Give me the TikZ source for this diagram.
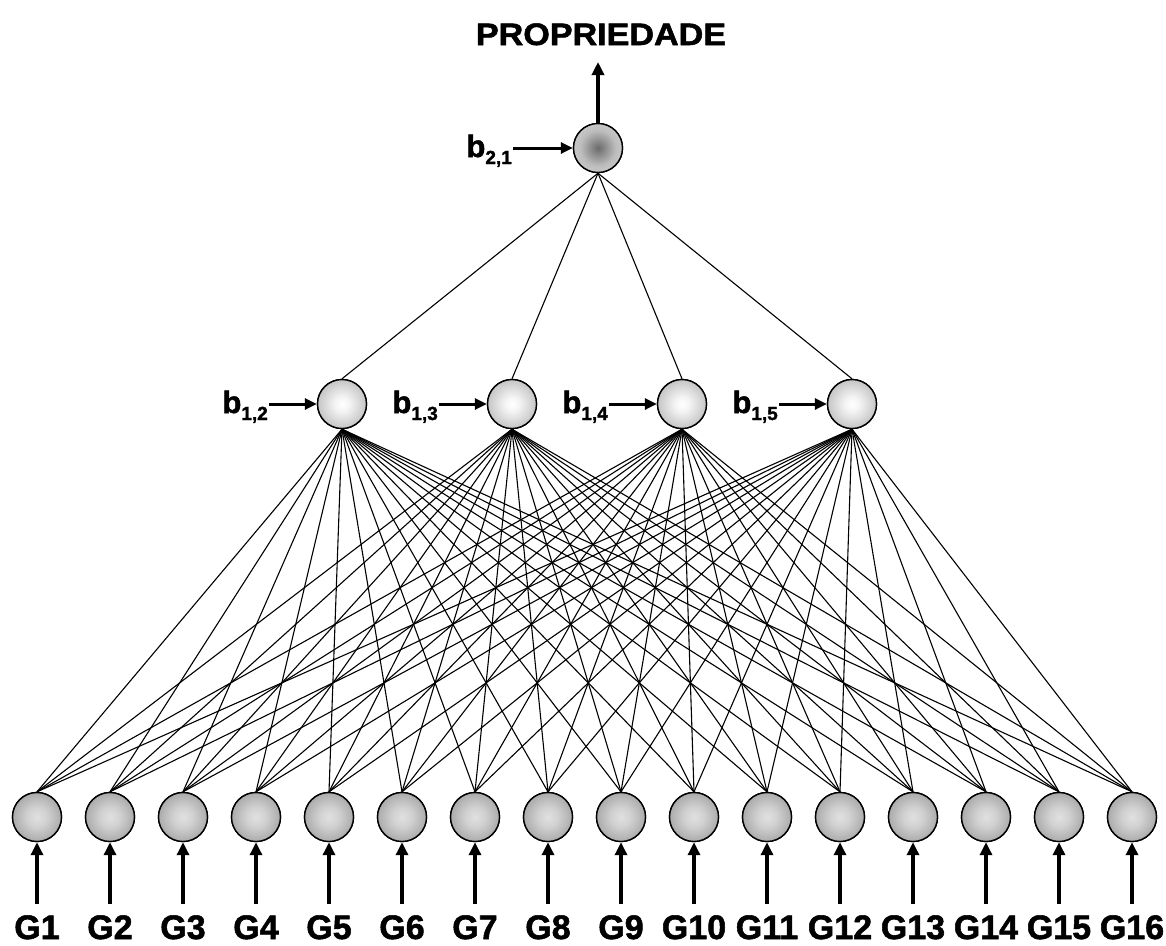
\documentclass[tikz,border=0pt]{standalone}
\usepackage{fontspec}
\setmainfont{Liberation Sans}[BoldFeatures={FakeBold=1.6}]
\usetikzlibrary{arrows.meta}
\pgfdeclareradialshading{inshade}{\pgfpoint{0bp}{0bp}}{rgb(0bp)=(0.88,0.88,0.88); rgb(10bp)=(0.82,0.82,0.82); rgb(30bp)=(0.62,0.62,0.62); rgb(50bp)=(0.32,0.32,0.32)}
\pgfdeclareradialshading{hidshade}{\pgfpoint{0bp}{0bp}}{rgb(0bp)=(1,1,1); rgb(7bp)=(0.96,0.96,0.96); rgb(30bp)=(0.72,0.72,0.72); rgb(50bp)=(0.40,0.40,0.40)}
\pgfdeclareradialshading{outshade}{\pgfpoint{0bp}{0bp}}{rgb(0bp)=(0.42,0.42,0.42); rgb(18bp)=(0.74,0.74,0.74); rgb(50bp)=(0.93,0.93,0.93)}
\tikzset{
  neuron/.style={circle, draw=black, line width=1.4pt, minimum size=49pt, inner sep=0pt},
  inneuron/.style={neuron, shading=inshade},
  hidneuron/.style={neuron, shading=hidshade},
  outneuron/.style={neuron, shading=outshade},
  conn/.style={line width=1.1pt, black},
  bigarrow/.style={line width=3.5pt, -{Triangle[length=13pt,width=12pt]}},
  biasarrow/.style={line width=3pt, -{Triangle[length=12pt,width=11pt]}},
  glabel/.style={font=\bfseries\fontsize{34}{36}\selectfont, anchor=base, inner sep=0pt},
  blabel/.style={font=\bfseries, anchor=base east, inner sep=0pt},
}
\newcommand{\biastext}[2]{{\fontsize{31}{31}\selectfont b}\raisebox{-7pt}{\fontsize{19}{19}\selectfont #1,#2}}
\begin{document}
\begin{tikzpicture}[x=1pt,y=-1pt]
\useasboundingbox (0,0) rectangle (1166,945);
% input neurons
\foreach \i in {1,...,16}{
  \node[inneuron] (g\i) at ({37+73*(\i-1)},817) {};
  \coordinate (gs\i) at ({37+73*(\i-1)},904);
  \node[glabel] (gl\i) at ({37+73*(\i-1)},939) {G\i};
}
% hidden neurons
\foreach \j/\x in {2/342,3/512,4/682,5/852}{
  \node[hidneuron] (h\j) at (\x,404) {};
  \node[blabel] (bl\j) at ({\x-74},413) {\biastext{1}{\j}};
}
% output
\node[outneuron] (o) at (598,148) {};
\node[blabel] (bo) at (512,157) {\biastext{2}{1}};
\node[font=\bfseries\fontsize{31}{34}\selectfont, anchor=base, inner sep=0pt, xscale=1.1] (prop) at (601,45) {PROPRIEDADE};
\coordinate (otop) at (598,62);
% connections
\foreach \i in {1,...,16}{
  \foreach \j in {2,...,5}{
    \draw[conn] (g\i.north) -- (h\j.south);
  }
}
\foreach \j in {2,...,5}{
  \draw[conn] (h\j.north) -- (o.south);
}
% redraw neurons above lines
\foreach \i in {1,...,16}{
  \node[inneuron] at (g\i) {};
  \draw[bigarrow] (gs\i) -- (g\i.south);
}
\foreach \j in {2,...,5}{
  \node[hidneuron] at (h\j) {};
  \draw[biasarrow] (bl\j.base east |- h\j) ++(1,0) -- (h\j.west);
}
\node[outneuron] at (o) {};
\draw[biasarrow] (bo.base east |- o) ++(1,0) -- (o.west);
\draw[bigarrow] (o.north) -- (otop);
\end{tikzpicture}
\end{document}
